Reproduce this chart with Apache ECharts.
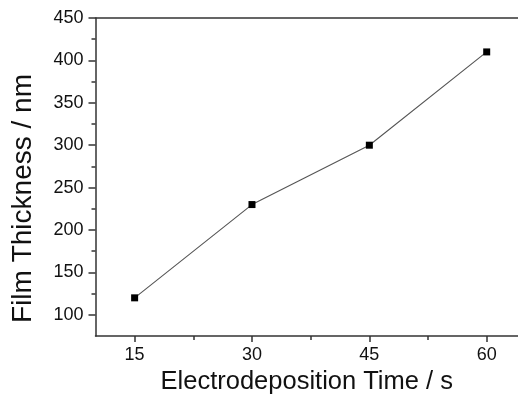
<!DOCTYPE html>
<html>
<head>
<meta charset="utf-8">
<script src="https://cdn.jsdelivr.net/npm/echarts@6/dist/echarts.min.js"></script>
<style>
  html, body { margin: 0; padding: 0; background: #fff; }
  #chart { width: 518px; height: 403px; }
</style>
</head>
<body>
<div id="chart"></div>
<script>
// data
var times = [15, 30, 45, 60]
var thickness = [120, 230, 300, 410]
var xTicks = [15, 30, 45, 60]
var xMinorTicks = [22.5, 37.5, 52.5]
var yTicks = [100, 150, 200, 250, 300, 350, 400, 450]
var yMinorTicks = [125, 175, 225, 275, 325, 375, 425]

var font = 'Liberation Sans, Arial, sans-serif'
var axisColor = '#333'

var myChart = echarts.init(document.getElementById('chart'))
myChart.setOption({
  animation: false,
  grid: {
    left: 95.5,
    right: 0,
    top: 18,
    bottom: 67
  },
  xAxis: [
    {
      type: 'value',
      min: 10,
      max: 64,
      name: 'Electrodeposition Time / s',
      nameLocation: 'middle',
      nameGap: 33,
      nameTextStyle: { fontFamily: font, fontSize: 25.5, color: '#111' },
      axisLine: { show: true, onZero: false, lineStyle: { color: axisColor, width: 1.5 } },
      axisTick: { show: true, customValues: xTicks, length: 6, lineStyle: { color: axisColor, width: 1.5 } },
      axisLabel: { customValues: xTicks, margin: 10, fontFamily: font, fontSize: 18, color: '#111' },
      splitLine: { show: false }
    },
    {
      // minor ticks
      type: 'value',
      min: 10,
      max: 64,
      position: 'bottom',
      axisLine: { show: false },
      axisTick: { show: true, customValues: xMinorTicks, length: 4, lineStyle: { color: axisColor, width: 1.5 } },
      axisLabel: { show: false },
      splitLine: { show: false }
    },
    {
      // top frame line
      type: 'value',
      min: 10,
      max: 64,
      position: 'top',
      axisLine: { show: true, onZero: false, lineStyle: { color: axisColor, width: 1.5 } },
      axisTick: { show: false },
      axisLabel: { show: false },
      splitLine: { show: false }
    }
  ],
  yAxis: [
    {
      type: 'value',
      min: 75,
      max: 450,
      name: 'Film Thickness / nm',
      nameLocation: 'middle',
      nameGap: 58,
      nameTextStyle: { fontFamily: font, fontSize: 28, color: '#111', padding: [0, 43, 0, 0] },
      axisLine: { show: true, onZero: false, lineStyle: { color: axisColor, width: 1.5 } },
      axisTick: { show: true, customValues: yTicks, length: 7, lineStyle: { color: axisColor, width: 1.5 } },
      axisLabel: { customValues: yTicks, margin: 12, fontFamily: font, fontSize: 18, color: '#111' },
      splitLine: { show: false }
    },
    {
      // minor ticks
      type: 'value',
      min: 75,
      max: 450,
      position: 'left',
      axisLine: { show: false },
      axisTick: { show: true, customValues: yMinorTicks, length: 4, lineStyle: { color: axisColor, width: 1.5 } },
      axisLabel: { show: false },
      splitLine: { show: false }
    }
  ],
  series: [
    {
      type: 'line',
      xAxisIndex: 0,
      yAxisIndex: 0,
      data: times.map(function (t, i) { return [t, thickness[i]] }),
      symbol: 'rect',
      symbolSize: 7,
      itemStyle: { color: '#000' },
      lineStyle: { color: '#555', width: 1.1 }
    }
  ]
})
</script>
</body>
</html>
